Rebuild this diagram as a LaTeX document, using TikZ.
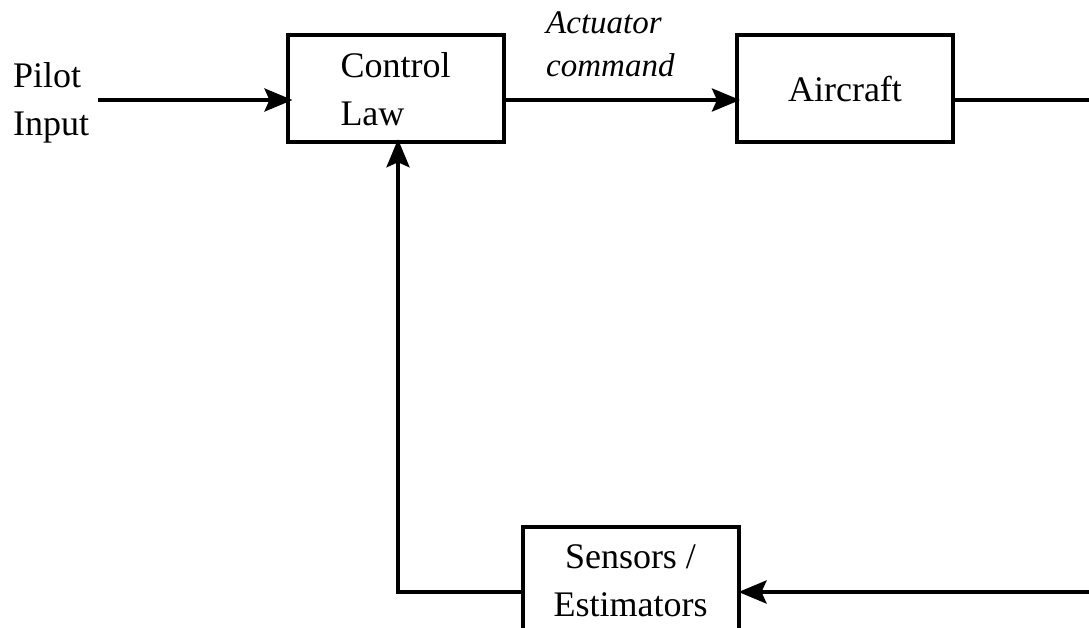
\documentclass[tikz,border=0pt]{standalone}
\usepackage{fontspec}
\setmainfont{Liberation Serif}
\usetikzlibrary{arrows.meta}
\begin{document}
\begin{tikzpicture}[x=1bp,y=-1bp,
  blk/.style={draw, line width=4bp, rectangle, inner sep=0pt, minimum width=216bp, minimum height=107bp,
    font=\fontsize{36bp}{48bp}\selectfont},
  lbl/.style={inner sep=0pt, font=\fontsize{36bp}{48bp}\selectfont},
  ilbl/.style={inner sep=0pt, font=\fontsize{33bp}{43bp}\selectfont\itshape},
  wire/.style={line width=3.8bp},
  arr/.style={wire, -{Stealth[length=28bp,width=23bp,inset=5bp]}}]
\path[use as bounding box] (0,0) rectangle (1089,628);
\clip (0,0) rectangle (1089,628);
% blocks
\node[blk, align=left] (cl) at (395.5,88.75) {Control\\Law};
\node[blk] (ac) at (845,88.75) {Aircraft};
\node[blk, align=center] (se) at (630.5,580.5) {Sensors /\\Estimators};
% labels
\node[lbl, align=left, anchor=west] (pi) at (13,102.6) {Pilot\\Input};
\node[ilbl, align=left, anchor=west] (act) at (546,44) {Actuator\\command};
% connector ends
\coordinate (pin) at (98,100);
\coordinate (outr) at (1089,100);
\coordinate (inr) at (1089,592);
\coordinate (fb) at (398,592);
% connectors
\draw[arr, shorten >=-7bp] (pin) -- (pin -| cl.west);
\draw[arr, shorten >=-5bp] (pin -| cl.east) -- (pin -| ac.west);
\draw[wire] (pin -| ac.east) -- (outr);
\draw[arr, shorten >=-2bp] (inr) -- (inr -| se.east);
\draw[arr, line join=miter, shorten >=-5bp] (inr -| se.west) -- (fb) -- (fb |- cl.south);
\end{tikzpicture}
\end{document}
